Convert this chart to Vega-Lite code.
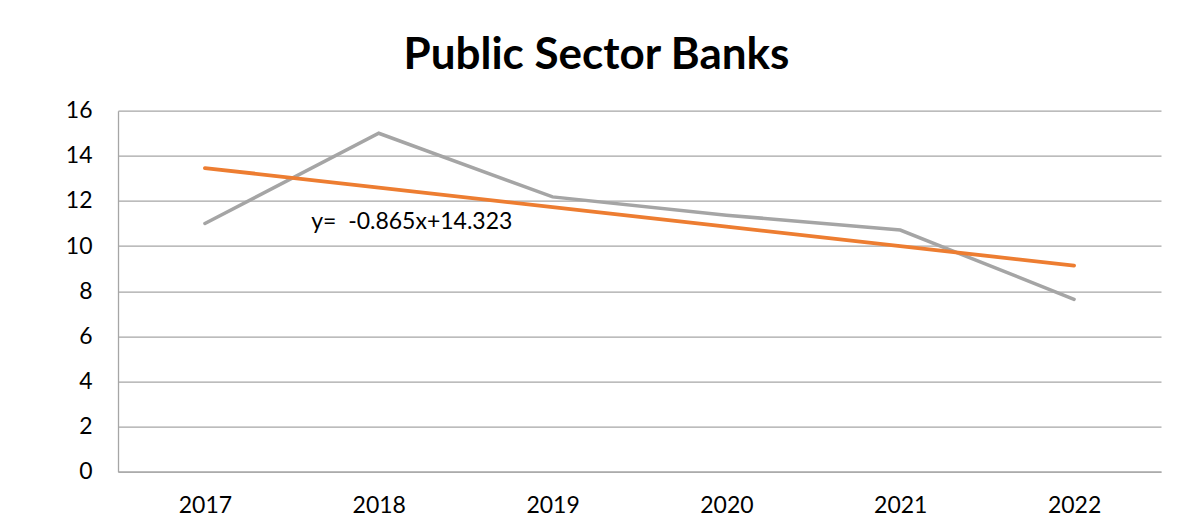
{
  "$schema": "https://vega.github.io/schema/vega-lite/v6.json",
  "autosize": "none",
  "width": 1043,
  "height": 361,
  "padding": {"left": 118, "top": 110.7, "right": 20, "bottom": 57},
  "background": "white",
  "title": {
    "text": "Public Sector Banks",
    "font": "Lato",
    "fontSize": 44,
    "fontWeight": "bold",
    "color": "#000000",
    "anchor": "middle",
    "baseline": "alphabetic",
    "offset": -13,
    "dx": -43
  },
  "datasets": {
    "series": [
      {"year": "2017", "value": 11.0, "trend": 13.458},
      {"year": "2018", "value": 15.0, "trend": 12.593},
      {"year": "2019", "value": 12.18, "trend": 11.728},
      {"year": "2020", "value": 11.37, "trend": 10.863},
      {"year": "2021", "value": 10.71, "trend": 9.998},
      {"year": "2022", "value": 7.64, "trend": 9.133}
    ],
    "label": [
      {"year": "2018", "value": 11.05, "text": "y=\u00a0 -0.865x+14.323"}
    ]
  },
  "config": {
    "view": {"stroke": null},
    "font": "Lato",
    "axis": {
      "labelFont": "Lato",
      "labelFontSize": 23,
      "labelColor": "#000000",
      "domainColor": "#a6a6a6",
      "gridColor": "#a6a6a6",
      "gridWidth": 1.3,
      "domainWidth": 1.3,
      "ticks": false,
      "title": null
    }
  },
  "layer": [
    {
      "data": {"name": "series"},
      "mark": {"type": "line", "color": "#a5a5a5", "strokeWidth": 3.5, "strokeCap": "round", "strokeJoin": "miter"},
      "encoding": {
        "x": {
          "field": "year", "type": "ordinal",
          "scale": {"paddingInner": 0, "paddingOuter": 0.5},
          "axis": {"labelAngle": 0, "labelPadding": 23, "grid": false, "domain": true}
        },
        "y": {
          "field": "value", "type": "quantitative",
          "scale": {"domain": [0, 16], "nice": false},
          "axis": {"values": [0, 2, 4, 6, 8, 10, 12, 14, 16], "labelPadding": 26, "grid": true, "domain": true}
        }
      }
    },
    {
      "data": {"name": "series"},
      "mark": {"type": "line", "color": "#ed7d31", "strokeWidth": 3.8, "strokeCap": "round"},
      "encoding": {
        "x": {"field": "year", "type": "ordinal"},
        "y": {"field": "trend", "type": "quantitative"}
      }
    },
    {
      "data": {"name": "label"},
      "mark": {"type": "text", "font": "Lato", "fontSize": 23, "color": "#000000", "align": "center", "baseline": "middle", "dx": 33},
      "encoding": {
        "x": {"field": "year", "type": "ordinal"},
        "y": {"field": "value", "type": "quantitative"},
        "text": {"field": "text"}
      }
    }
  ]
}
